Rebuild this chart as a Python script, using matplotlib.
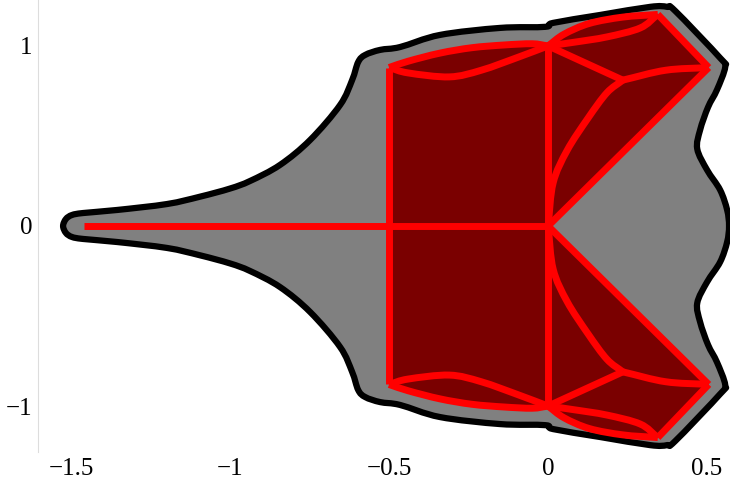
import matplotlib
matplotlib.use("Agg")
import matplotlib.pyplot as plt
import numpy as np
from matplotlib.path import Path
from matplotlib.patches import PathPatch

# outer gray region, upper half (mirrored about y=0)
outline_x = [-1.525, -1.516, -1.497, -1.462, -1.355, -1.198, -1.094, -1.0, -0.937,
             -0.843, -0.748, -0.654, -0.616, -0.597, -0.575, -0.528, -0.465, -0.34,
             -0.151, -0.009, 0.016, 0.164, 0.321, 0.374, 0.4, 0.541, 0.557, 0.531,
             0.503, 0.478, 0.469, 0.5, 0.541, 0.563, 0.569]
outline_y = [0.0, 0.039, 0.061, 0.072, 0.089, 0.122, 0.163, 0.208, 0.25,
             0.339, 0.478, 0.672, 0.811, 0.911, 0.95, 0.978, 0.994, 1.061,
             1.1, 1.106, 1.128, 1.172, 1.217, 1.217, 1.194, 0.933, 0.883, 0.756,
             0.66, 0.533, 0.428, 0.311, 0.2, 0.089, 0.0]

# skeleton nodes
A = (-1.46, 0.0)
O = (0.0, 0.0)
B = (-0.5, 0.88)
C = (0.0, 1.0)
D = (0.345, 1.175)
E = (0.235, 0.81)
F = (0.505, 0.88)

# curved edges, upper half
bc_upper_x = [-0.5, -0.44, -0.34, -0.24, -0.14, -0.05, 0.0]
bc_upper_y = [0.88, 0.915, 0.96, 0.99, 1.005, 1.012, 1.0]
bc_lower_x = [-0.5, -0.44, -0.31, -0.21, -0.09, 0.0]
bc_lower_y = [0.88, 0.85, 0.828, 0.865, 0.94, 1.0]
cd_upper_x = [0.0, 0.05, 0.13, 0.235, 0.345]
cd_upper_y = [1.0, 1.065, 1.125, 1.16, 1.175]
cd_lower_x = [0.0, 0.08, 0.185, 0.29, 0.345]
cd_lower_y = [1.0, 1.02, 1.05, 1.1, 1.175]
ef_x = [0.235, 0.37, 0.505]
ef_y = [0.81, 0.865, 0.88]
oe_x = [0.0, 0.016, 0.06, 0.126, 0.185, 0.235]
oe_y = [0.0, 0.24, 0.42, 0.6, 0.74, 0.81]

x_ticks = [-1.5, -1, -0.5, 0, 0.5]
x_labels = ["\u22121.5", "\u22121", "\u22120.5", "0", "0.5"]
y_ticks = [-1, 0, 1]
y_labels = ["\u22121", "0", "1"]

RED = "#ff0000"
DARK = "#7a0000"
GRAY = "#808080"


def bezier_segs(xs, ys, closed=False):
    """Catmull-Rom through the points, as cubic Bezier vertices (no MOVETO)."""
    p = np.column_stack([xs, ys]).astype(float)
    n = len(p)
    verts = []
    last = n if closed else n - 1
    for i in range(last):
        p1 = p[i]
        p2 = p[(i + 1) % n]
        if closed:
            p0 = p[(i - 1) % n]
            p3 = p[(i + 2) % n]
        else:
            p0 = p[i - 1] if i > 0 else 2 * p1 - p2
            p3 = p[i + 2] if i + 2 < n else 2 * p2 - p1
        verts += [p1 + (p2 - p0) / 6, p2 - (p3 - p1) / 6, p2]
    return verts, [Path.CURVE4] * len(verts)


def curve_path(xs, ys):
    v, c = bezier_segs(xs, ys)
    return Path([(xs[0], ys[0])] + v, [Path.MOVETO] + c)


fig = plt.figure(figsize=(7.3, 4.86), dpi=100)
ax = fig.add_axes([0.052, 0.07, 0.948, 0.93])

# gray region with black outline
ox = list(outline_x) + list(outline_x[-2:0:-1])
oy = list(outline_y) + [-v for v in outline_y[-2:0:-1]]
v, c = bezier_segs(ox, oy, closed=True)
outline = Path([(ox[0], oy[0])] + v + [(ox[0], oy[0])],
               [Path.MOVETO] + c + [Path.CLOSEPOLY])
ax.add_patch(PathPatch(outline, facecolor=GRAY, edgecolor="black",
                       linewidth=4.5, joinstyle="round", zorder=1))

# dark red filled cells
for s in (1, -1):
    v1, c1 = bezier_segs(bc_upper_x, [s * y for y in bc_upper_y])
    v2, c2 = bezier_segs(cd_upper_x, [s * y for y in cd_upper_y])
    verts = [(-0.5, 0.0), (B[0], s * B[1])] + v1 + v2 + \
            [(F[0], s * F[1]), O, O]
    codes = [Path.MOVETO, Path.LINETO] + c1 + c2 + \
            [Path.LINETO, Path.LINETO, Path.CLOSEPOLY]
    ax.add_patch(PathPatch(Path(verts, codes), facecolor=DARK,
                           edgecolor="none", zorder=2))

lw = 5
kw = dict(color=RED, linewidth=lw, solid_joinstyle="round",
          solid_capstyle="butt", zorder=3)
pkw = dict(facecolor="none", edgecolor=RED, linewidth=lw,
           capstyle="butt", joinstyle="round", zorder=3)

ax.plot([A[0], O[0]], [A[1], O[1]], **kw)
ax.plot([B[0], B[0]], [B[1], -B[1]], **kw)
ax.plot([C[0], C[0]], [C[1], -C[1]], **kw)
for s in (1, -1):
    for cx, cy in [(bc_upper_x, bc_upper_y), (bc_lower_x, bc_lower_y),
                   (cd_upper_x, cd_upper_y), (cd_lower_x, cd_lower_y),
                   (ef_x, ef_y), (oe_x, oe_y)]:
        ax.add_patch(PathPatch(curve_path(cx, [s * y for y in cy]), **pkw))
    ax.plot([C[0], E[0]], [s * C[1], s * E[1]], **kw)
    ax.plot([D[0], F[0]], [s * D[1], s * F[1]], **kw)
    ax.plot([O[0], F[0]], [O[1], s * F[1]], **kw)

ax.set_xlim(-1.604, 0.572)
ax.set_ylim(-1.255, 1.255)

for side in ("top", "right", "bottom"):
    ax.spines[side].set_visible(False)
ax.spines["left"].set_color("#dddddd")
ax.spines["left"].set_linewidth(0.8)

ax.set_xticks(x_ticks)
ax.set_xticklabels(x_labels)
ax.set_yticks(y_ticks)
ax.set_yticklabels(y_labels)
ax.tick_params(length=0, labelsize=18, pad=4)
for lab in ax.get_xticklabels() + ax.get_yticklabels():
    lab.set_family("Liberation Serif")

fig.savefig("out.png", dpi=100)
